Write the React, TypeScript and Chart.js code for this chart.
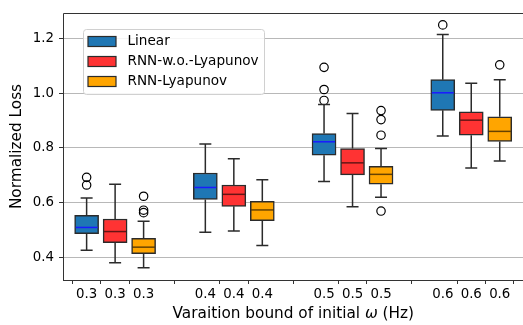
import React, { useEffect, useRef } from 'react';
import { Chart, registerables } from 'chart.js';

Chart.register(...registerables);

// ---- data ----
const groupLabels = ['0.3', '0.4', '0.5', '0.6'];
const groupCenters = [1, 2, 3, 4];
const seriesOffsets = [-0.24, 0, 0.24];
const seriesNames = ['Linear', 'RNN-w.o.-Lyapunov', 'RNN-Lyapunov'];
const seriesColors = ['#1f77b4', '#ff3333', '#ffa500'];
const medianColors = ['#1a1aff', 'rgba(0,0,0,0.6)', 'rgba(0,0,0,0.6)'];

const linearLow = [0.426, 0.491, 0.677, 0.843];
const linearQ1 = [0.486, 0.611, 0.773, 0.937];
const linearMed = [0.509, 0.655, 0.822, 1.001];
const linearQ3 = [0.553, 0.708, 0.852, 1.049];
const linearHigh = [0.617, 0.814, 0.958, 1.214];
const linearOut = [[0.664, 0.692], [], [0.973, 1.013, 1.094], [1.249]];

const rnnLow = [0.38, 0.496, 0.585, 0.726];
const rnnQ1 = [0.453, 0.586, 0.701, 0.846];
const rnnMed = [0.494, 0.63, 0.745, 0.901];
const rnnQ3 = [0.54, 0.664, 0.797, 0.931];
const rnnHigh = [0.667, 0.76, 0.925, 1.036];
const rnnOut = [[], [], [], []];

const lyaLow = [0.362, 0.443, 0.619, 0.752];
const lyaQ1 = [0.413, 0.534, 0.667, 0.823];
const lyaMed = [0.437, 0.573, 0.703, 0.86];
const lyaQ3 = [0.469, 0.604, 0.732, 0.913];
const lyaHigh = [0.532, 0.683, 0.797, 1.049];
const lyaOut = [[0.563, 0.572, 0.623], [], [0.569, 0.846, 0.903, 0.936], [1.103]];

const yTicks = [0.4, 0.6, 0.8, 1.0, 1.2];
const yMin = 0.317;
const yMax = 1.2925;
const xMin = 0.561;
const xMax = 4.441;

const series = [
  { low: linearLow, q1: linearQ1, med: linearMed, q3: linearQ3, high: linearHigh, out: linearOut },
  { low: rnnLow, q1: rnnQ1, med: rnnMed, q3: rnnQ3, high: rnnHigh, out: rnnOut },
  { low: lyaLow, q1: lyaQ1, med: lyaMed, q3: lyaQ3, high: lyaHigh, out: lyaOut },
];

const tickPositions: number[] = [];
const tickLabels: string[] = [];
groupCenters.forEach((c, g) => {
  seriesOffsets.forEach((o) => {
    tickPositions.push(c + o);
    tickLabels.push(groupLabels[g]);
  });
});

const FONT = "'DejaVu Sans', sans-serif";
const FS = 13.33;
const TFS = 15.3;
const LFS = 13.6;
const EDGE = '#2b2b2b';

const boxPlugin = {
  id: 'boxExtras',
  afterDatasetsDraw(chart: any) {
    const ctx = chart.ctx;
    const xs = chart.scales.x;
    const ys = chart.scales.y;
    ctx.save();
    series.forEach((s, si) => {
      const meta = chart.getDatasetMeta(si);
      s.med.forEach((m, g) => {
        const el = meta.data[g];
        const w = el ? el.width : 24;
        const cx = xs.getPixelForValue(groupCenters[g] + seriesOffsets[si]);
        ctx.strokeStyle = EDGE;
        ctx.lineWidth = 1.5;
        ctx.beginPath();
        ctx.moveTo(cx, ys.getPixelForValue(s.q3[g]));
        ctx.lineTo(cx, ys.getPixelForValue(s.high[g]));
        ctx.moveTo(cx, ys.getPixelForValue(s.q1[g]));
        ctx.lineTo(cx, ys.getPixelForValue(s.low[g]));
        ctx.stroke();
        ctx.beginPath();
        const hy = ys.getPixelForValue(s.high[g]);
        const ly = ys.getPixelForValue(s.low[g]);
        ctx.moveTo(cx - w / 4, hy);
        ctx.lineTo(cx + w / 4, hy);
        ctx.moveTo(cx - w / 4, ly);
        ctx.lineTo(cx + w / 4, ly);
        ctx.stroke();
        const my = ys.getPixelForValue(m);
        ctx.strokeStyle = medianColors[si];
        ctx.lineWidth = 1.5;
        ctx.beginPath();
        ctx.moveTo(cx - w / 2 + 1, my);
        ctx.lineTo(cx + w / 2 - 1, my);
        ctx.stroke();
      });
    });
    ctx.restore();
  },
  afterDraw(chart: any) {
    const ctx = chart.ctx;
    const a = chart.chartArea;
    ctx.save();
    ctx.strokeStyle = '#333';
    ctx.lineWidth = 1;
    ctx.beginPath();
    ctx.moveTo(Math.round(a.left) + 0.5, a.bottom);
    ctx.lineTo(Math.round(a.left) + 0.5, Math.round(a.top) + 0.5);
    ctx.lineTo(a.right, Math.round(a.top) + 0.5);
    ctx.moveTo(Math.round(a.left), Math.round(a.bottom) + 0.5);
    ctx.lineTo(a.right, Math.round(a.bottom) + 0.5);
    ctx.stroke();

    ctx.fillStyle = '#000';
    ctx.textBaseline = 'middle';
    const parts = [
      { t: 'Varaition bound of initial ', f: `${TFS}px ${FONT}` },
      { t: 'ω', f: `italic ${TFS}px ${FONT}` },
      { t: ' (Hz)', f: `${TFS}px ${FONT}` },
    ];
    let total = 0;
    parts.forEach((p) => {
      ctx.font = p.f;
      total += ctx.measureText(p.t).width;
    });
    let x = (a.left + a.right) / 2 - total / 2;
    ctx.textAlign = 'left';
    parts.forEach((p) => {
      ctx.font = p.f;
      ctx.fillText(p.t, x, 314);
      x += ctx.measureText(p.t).width;
    });
    ctx.save();
    ctx.translate(17.5, (a.top + a.bottom) / 2);
    ctx.rotate(-Math.PI / 2);
    ctx.textAlign = 'center';
    ctx.font = `${TFS}px ${FONT}`;
    ctx.fillText('Normalized Loss', 0, 0);
    ctx.restore();

    const lx = 83.5, ly = 29.5, lw = 181, lh = 65;
    ctx.fillStyle = 'rgba(255,255,255,0.85)';
    ctx.strokeStyle = '#d0d0d0';
    ctx.lineWidth = 1;
    ctx.beginPath();
    ctx.roundRect(lx, ly, lw, lh, 3);
    ctx.fill();
    ctx.stroke();
    ctx.font = `${LFS}px ${FONT}`;
    ctx.textAlign = 'left';
    seriesNames.forEach((n, i) => {
      const cy = 41.5 + i * 20;
      ctx.fillStyle = seriesColors[i];
      ctx.fillRect(88, cy - 5, 28, 10);
      ctx.strokeStyle = EDGE;
      ctx.lineWidth = 1.2;
      ctx.strokeRect(88, cy - 5, 28, 10);
      ctx.fillStyle = '#000';
      ctx.fillText(n, 127.5, cy);
    });
    ctx.restore();
  },
};

export default function App() {
  const ref = useRef<HTMLCanvasElement | null>(null);
  useEffect(() => {
    if (!ref.current) return;
    const boxDatasets = series.map((s, si) => ({
      type: 'bar' as const,
      label: seriesNames[si],
      data: s.q1.map((q1, g) => ({ x: groupCenters[g] + seriesOffsets[si], y: [q1, s.q3[g]] })),
      backgroundColor: seriesColors[si],
      borderColor: EDGE,
      borderWidth: 1.5,
      borderSkipped: false,
      barThickness: 24,
      grouped: false,
      order: 2,
    }));
    const outDatasets = series.map((s, si) => ({
      type: 'scatter' as const,
      label: seriesNames[si] + ' outliers',
      data: s.out.flatMap((arr, g) => arr.map((v) => ({ x: groupCenters[g] + seriesOffsets[si], y: v }))),
      pointStyle: 'circle',
      pointRadius: 4.2,
      pointBackgroundColor: 'rgba(0,0,0,0)',
      pointBorderColor: '#000',
      pointBorderWidth: 1.2,
      order: 1,
    }));
    const chart = new Chart(ref.current, {
      type: 'bar',
      data: { datasets: [...boxDatasets, ...outDatasets] as any },
      options: {
        animation: false,
        responsive: false,
        devicePixelRatio: 1,
        layout: { padding: { top: 9, left: 0, right: 0, bottom: 0 } },
        plugins: { legend: { display: false }, tooltip: { enabled: false } },
        scales: {
          x: {
            type: 'linear',
            min: xMin,
            max: xMax,
            offset: false,
            afterBuildTicks: (scale: any) => {
              scale.ticks = tickPositions.map((v) => ({ value: v }));
            },
            afterFit: (scale: any) => {
              scale.height = 45;
            },
            ticks: {
              autoSkip: false,
              maxRotation: 0,
              minRotation: 0,
              padding: 3,
              color: '#000',
              font: { family: FONT, size: FS },
              callback: (_v: any, i: number) => tickLabels[i],
            },
            grid: { drawOnChartArea: false, drawTicks: true, tickLength: 4, tickColor: '#333', tickWidth: 1 },
            border: { display: false },
          },
          y: {
            type: 'linear',
            min: yMin,
            max: yMax,
            afterBuildTicks: (scale: any) => {
              scale.ticks = yTicks.map((v) => ({ value: v }));
            },
            afterFit: (scale: any) => {
              scale.width = 63;
            },
            ticks: {
              padding: 5,
              color: '#000',
              font: { family: FONT, size: FS },
              callback: (v: any) => Number(v).toFixed(1),
            },
            grid: { color: '#b8b8b8', lineWidth: 1, drawTicks: true, tickLength: 4, tickColor: '#333' },
            border: { display: false },
          },
        },
      } as any,
      plugins: [boxPlugin],
    });
    return () => chart.destroy();
  }, []);
  return (
    <div style={{ position: 'fixed', left: 0, top: 0, width: 523, height: 325, overflow: 'hidden', background: '#fff' }}>
      <canvas ref={ref} width={529} height={325} style={{ width: 529, height: 325, display: 'block' }} />
    </div>
  );
}
